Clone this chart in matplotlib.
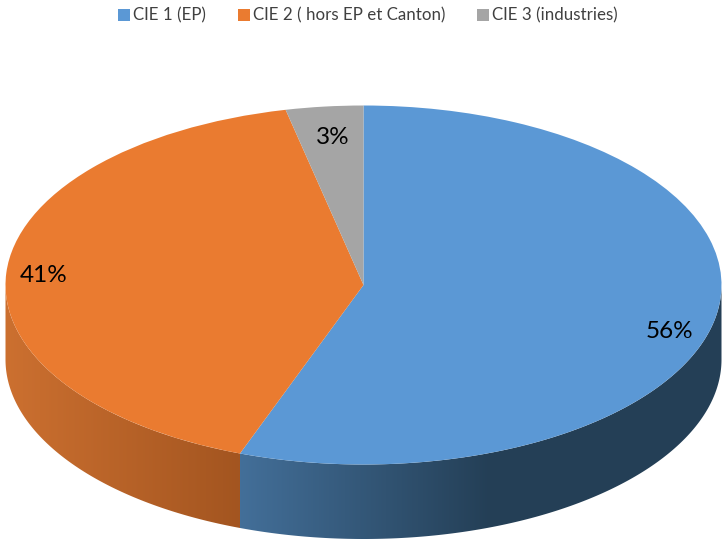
import numpy as np
import matplotlib
matplotlib.use("Agg")
import matplotlib.pyplot as plt
from matplotlib.patches import Polygon

categories = ["CIE 1 (EP)", "CIE 2 ( hors EP et Canton)", "CIE 3 (industries)"]
values = [55.6, 40.9, 3.49]
labels = ["56%", "41%", "3%"]
colors = ["#5B98D5", "#EA7B30", "#A5A5A5"]
side_stops = [
    [(240, "#436F99"), (490, "#243F56"), (722, "#243F56")],
    [(5, "#CC7030"), (240, "#A35520")],
    [(240, "#707070"), (363, "#707070")],
]
label_px = [(669.5, 331), (43.5, 276), (333, 138)]

W, H = 722, 540
CX, CY, RX, RY, DEPTH = 363.5, 285.0, 358.0, 179.5, 74.5

plt.rcParams["font.family"] = ["Lato", "DejaVu Sans"]
fig = plt.figure(figsize=(W / 100, H / 100), dpi=100)
ax = fig.add_axes([0, 0, 1, 1])
wedges, _ = ax.pie(values, colors=colors, startangle=90, counterclock=False,
                   radius=1, wedgeprops=dict(linewidth=0))
ax.set_aspect("auto")
x0, x1 = (0 - CX) / RX, (W - CX) / RX
y0, y1 = (CY - H) / RY, (CY - 0) / RY
ax.set_xlim(x0, x1)
ax.set_ylim(y0, y1)
depth = DEPTH / RY


def hex_rgb(h):
    return np.array(matplotlib.colors.to_rgb(h))


xs_px = np.arange(W)
for w, stops in zip(wedges, side_stops):
    a0, a1 = w.theta1 % 360, w.theta2 % 360
    if a0 > a1:
        a1 += 360
    # visible rim: the part of the slice in the lower half of the ellipse
    lo, hi = max(a0, 180), min(a1, 360)
    if lo >= hi:
        continue
    t = np.radians(np.linspace(lo, hi, 300))
    top = np.c_[np.cos(t), np.sin(t)]
    bot = top[::-1] - [0, depth]
    poly = Polygon(np.r_[top, bot], closed=True, fc="none", ec="none",
                   transform=ax.transData)
    ax.add_patch(poly)
    sx = [s[0] for s in stops]
    rgb = np.array([hex_rgb(s[1]) for s in stops])
    grad = np.stack([np.interp(xs_px, sx, rgb[:, i]) for i in range(3)], axis=-1)[None, :, :]
    im = ax.imshow(grad, extent=(x0, x1, y0, y1), aspect="auto", zorder=0.5,
                   interpolation="nearest")
    im.set_clip_path(poly)
ax.set_xlim(x0, x1)
ax.set_ylim(y0, y1)
for w in wedges:
    w.set_zorder(2)

for lab, (px, py) in zip(labels, label_px):
    ax.text((px - CX) / RX, (CY - py) / RY, lab, ha="center", va="center",
            fontsize=17.5, color="black", zorder=3)

fig.legend(wedges, categories, loc="center", bbox_to_anchor=(368 / W, 1 - 15.5 / H),
           ncol=3, frameon=False, fontsize=12.2, handlelength=0.71, handleheight=0.71,
           handletextpad=0.18, columnspacing=1.89, labelcolor="#404040",
           borderpad=0, borderaxespad=0)
fig.savefig("out.png", dpi=100)
